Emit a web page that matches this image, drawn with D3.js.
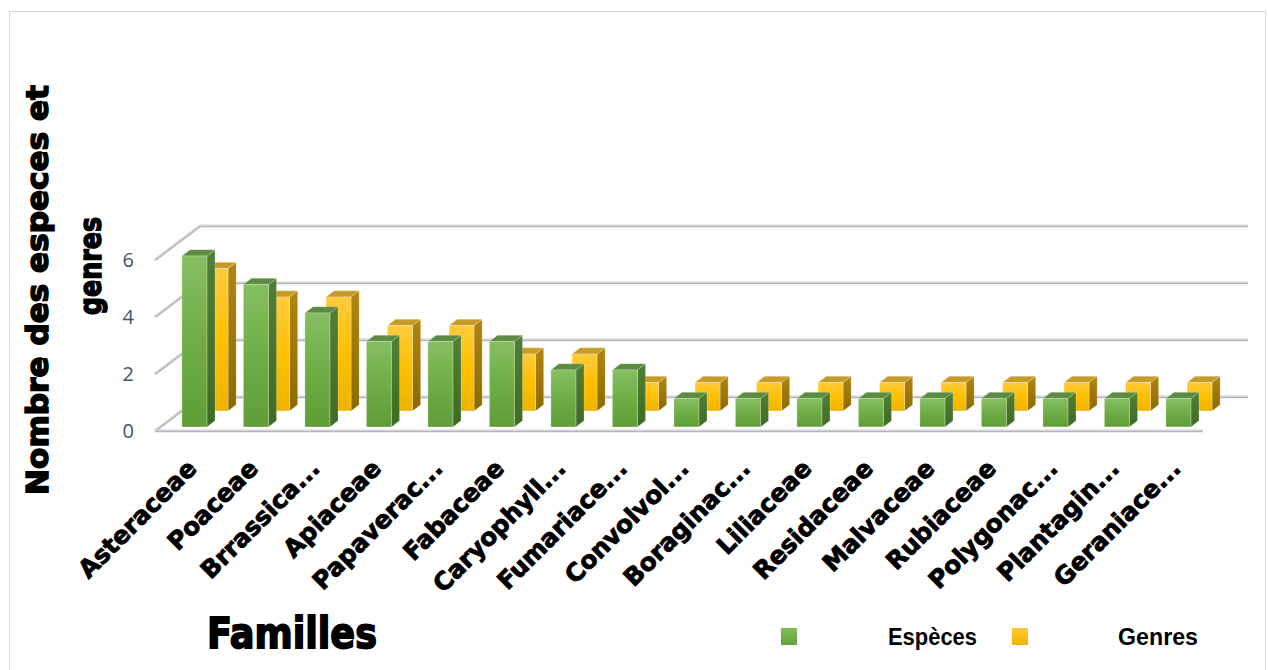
<!DOCTYPE html>
<html>
<head>
<meta charset="utf-8">
<script src="https://cdn.jsdelivr.net/npm/d3@7/dist/d3.min.js"></script>
<style>
  html, body { margin: 0; padding: 0; background: #ffffff; }
  svg { display: block; }
</style>
</head>
<body>
<svg id="chart" width="1268" height="670"></svg>
<script>
const categories = ["Asteraceae", "Poaceae", "Brrassica...", "Apiaceae", "Papaverac...", "Fabaceae",
  "Caryophyll...", "Fumariace...", "Convolvol...", "Boraginac...", "Liliaceae", "Residaceae",
  "Malvaceae", "Rubiaceae", "Polygonac...", "Plantagin...", "Geraniace..."];
const especes = [6, 5, 4, 3, 3, 3, 2, 2, 1, 1, 1, 1, 1, 1, 1, 1, 1];
const genres  = [5, 4, 4, 3, 3, 2, 2, 1, 1, 1, 1, 1, 1, 1, 1, 1, 1];
const yTicks = [0, 2, 4, 6];
const seriesNames = ["Espèces", "Genres"];
const yTitleLines = ["Nombre des especes et", "genres"];
const xTitle = "Familles";

const svg = d3.select("#chart");
const W = 1268, H = 670;

// chart border
svg.append("rect").attr("x", 9.5).attr("y", 11.5).attr("width", W - 12).attr("height", H)
  .attr("fill", "none").attr("stroke", "#d9d9d9").attr("stroke-width", 1);

// scales
const x = d3.scalePoint().domain(categories).range([189, 1173]);
const y = d3.scaleLinear().domain([0, 6]).range([431, 260]);
const DX = 45, DY = -34;           // depth projection (z from 0 front to 1 back)
const floorLeft = 155, floorRight = 1203;
const P = (px, v, z) => [px + z * DX, y(v) + z * DY];

const defs = svg.append("defs");
function vgrad(id, stops) {
  const g = defs.append("linearGradient").attr("id", id)
    .attr("x1", 0).attr("y1", 0).attr("x2", 0).attr("y2", 1);
  stops.forEach(s => g.append("stop").attr("offset", s[0]).attr("stop-color", s[1]));
}
vgrad("gFront", [[0, "#86bf62"], [0.5, "#70ad47"], [1, "#5f9d37"]]);
vgrad("gSide", [[0, "#507f35"], [1, "#3e6b25"]]);
vgrad("yFront", [[0, "#ffcb3d"], [0.5, "#ffc000"], [1, "#ecb400"]]);
vgrad("ySide", [[0, "#b08612"], [1, "#8c6900"]]);
vgrad("gLeg", [[0, "#82bb5e"], [1, "#62a23a"]]);
vgrad("yLeg", [[0, "#ffc933"], [1, "#efb500"]]);

// gridlines: left wall + back wall + floor front edge
const grid = svg.append("g").attr("fill", "none");
yTicks.forEach(v => {
  const a = P(floorLeft, v, 0), b = P(floorLeft, v, 1), c = P(floorRight, v, 1);
  grid.append("path").attr("d", d3.line()([a, b, c])).attr("stroke", "#b4b4bd").attr("stroke-width", 2.6);
  grid.append("path").attr("d", d3.line()([a, b, c])).attr("stroke", "#dcdce2").attr("stroke-width", 0.9)
    .attr("transform", "translate(0,-0.6)");
});
grid.append("path").attr("d", d3.line()([P(floorLeft, 0, 0), P(floorRight, 0, 0)]))
  .attr("stroke", "#b4b4bd").attr("stroke-width", 2.6);
grid.append("path").attr("d", d3.line()([P(floorLeft, 0, 0), P(floorRight, 0, 0)]))
  .attr("stroke", "#dcdce2").attr("stroke-width", 0.9).attr("transform", "translate(0,-0.6)");

// bars
const line = d3.line();
function bar(g, cx, v, z0, z1, w, front, side, top) {
  const xl = cx - w / 2, xr = cx + w / 2;
  g.append("path").attr("d", line([P(xr, 0, z0), P(xr, v, z0), P(xr, v, z1), P(xr, 0, z1)]) + "Z")
    .attr("fill", side).attr("stroke", "rgba(255,255,255,0.35)").attr("stroke-width", 0.6);
  g.append("path").attr("d", line([P(xl, v, z0), P(xr, v, z0), P(xr, v, z1), P(xl, v, z1)]) + "Z")
    .attr("fill", top).attr("stroke", "rgba(255,255,255,0.35)").attr("stroke-width", 0.6);
  g.append("path").attr("d", line([P(xl, 0, z0), P(xl, v, z0), P(xr, v, z0), P(xr, 0, z0)]) + "Z")
    .attr("fill", front).attr("stroke", "rgba(255,255,255,0.45)").attr("stroke-width", 0.6);
}
const BW = 25;
const gBack = svg.append("g");
categories.forEach((c, i) => bar(gBack, x(c), genres[i], 0.59, 0.77, BW, "url(#yFront)", "url(#ySide)", "#c79c26"));
const gFrontG = svg.append("g");
categories.forEach((c, i) => bar(gFrontG, x(c), especes[i], 0.12, 0.30, BW, "url(#gFront)", "url(#gSide)", "#5c8b42"));

// y axis labels
const yAxis = svg.append("g").attr("transform", "translate(134,0)")
  .call(d3.axisLeft(y).tickValues(yTicks).tickSize(0).tickPadding(0).tickFormat(d3.format("d")));
yAxis.select(".domain").remove();
yAxis.selectAll("text").attr("font-family", "'Open Sans', 'Liberation Sans', sans-serif")
  .attr("font-size", 20).attr("fill", "#44546a");

// x category labels
svg.append("g").selectAll("text").data(categories).join("text")
  .attr("transform", d => `translate(${x(d) + 9},${470}) rotate(-45)`)
  .attr("text-anchor", "end")
  .attr("font-family", "'DejaVu Sans', sans-serif").attr("font-weight", "bold")
  .attr("font-size", 24.5).attr("fill", "#000").attr("stroke", "#000").attr("stroke-width", 0.9)
  .text(d => d);

// y axis title
const yt = svg.append("g").attr("font-family", "'DejaVu Sans', sans-serif").attr("font-weight", "bold")
  .attr("fill", "#000").attr("stroke", "#000").attr("stroke-width", 1.5);
yt.append("text").attr("transform", "translate(48,290) rotate(-90)").attr("text-anchor", "middle")
  .attr("font-size", 30).attr("textLength", 410).attr("lengthAdjust", "spacingAndGlyphs").text(yTitleLines[0]);
yt.append("text").attr("transform", "translate(101,266) rotate(-90)").attr("text-anchor", "middle")
  .attr("font-size", 30).attr("textLength", 98).attr("lengthAdjust", "spacingAndGlyphs").text(yTitleLines[1]);

// x axis title
svg.append("text").attr("x", 207).attr("y", 648)
  .attr("font-family", "'DejaVu Sans', sans-serif").attr("font-weight", "bold")
  .attr("font-size", 43).attr("fill", "#000").attr("stroke", "#000").attr("stroke-width", 1.8)
  .attr("textLength", 170).attr("lengthAdjust", "spacingAndGlyphs").text(xTitle);

// legend
const legend = [
  { name: seriesNames[0], sx: 781, tx: 888, tw: 89, fill: "url(#gLeg)" },
  { name: seriesNames[1], sx: 1012, tx: 1118, tw: 80, fill: "url(#yLeg)" }
];
const lg = svg.append("g");
legend.forEach(l => {
  lg.append("rect").attr("x", l.sx).attr("y", 628).attr("width", 16).attr("height", 17).attr("fill", l.fill);
  lg.append("text").attr("x", l.tx).attr("y", 645)
    .attr("font-family", "'Liberation Sans', sans-serif").attr("font-weight", "bold")
    .attr("font-size", 23).attr("fill", "#000")
    .attr("textLength", l.tw).attr("lengthAdjust", "spacingAndGlyphs").text(l.name);
});
</script>
</body>
</html>
